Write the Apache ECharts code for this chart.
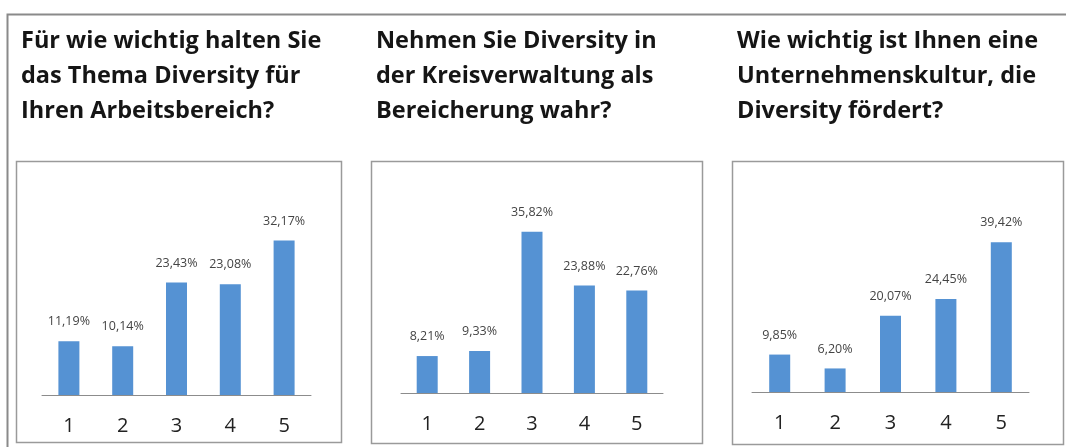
<!DOCTYPE html>
<html><head><meta charset="utf-8">
<script src="https://cdn.jsdelivr.net/npm/echarts@6/dist/echarts.min.js"></script>
<style>html,body{margin:0;padding:0;background:#fff}#c{width:1066px;height:447px}</style>
</head><body><div id="c"></div>
<script>
const categories = ['1','2','3','4','5'];
const titles = [
  'Für wie wichtig halten Sie\ndas Thema Diversity für\nIhren Arbeitsbereich?',
  'Nehmen Sie Diversity in\nder Kreisverwaltung als\nBereicherung wahr?',
  'Wie wichtig ist Ihnen eine\nUnternehmenskultur, die\nDiversity fördert?'
];
const valuesArbeitsbereich = [11.19, 10.14, 23.43, 23.08, 32.17];
const valuesBereicherung = [8.21, 9.33, 35.82, 23.88, 22.76];
const valuesKultur = [9.85, 6.20, 20.07, 24.45, 39.42];
const seriesValues = [valuesArbeitsbereich, valuesBereicherung, valuesKultur];

const grids = [
  {left: 42, width: 269, top: 203, bottom: 52},
  {left: 401, width: 262, top: 213, bottom: 54},
  {left: 752, width: 277, top: 221, bottom: 55}
];
const yMax = [40, 40, 45];
const titlePos = [16, 371, 732];
const boxes = [
  {x: 16.5, y: 161.5, w: 325, h: 281},
  {x: 371.5, y: 161.5, w: 331, h: 282},
  {x: 732.5, y: 161.5, w: 331, h: 283}
];
const fmt = v => v.toFixed(2).replace('.', ',') + '%';
const chart = echarts.init(document.getElementById('c'), null, {renderer: 'canvas'});
const option = {
  animation: false,
  backgroundColor: '#fff',
  title: titles.map((t, i) => ({
    text: t, left: titlePos[i], top: 19,
    textStyle: {fontFamily: 'Open Sans', fontWeight: 'bold', fontSize: 23.5, lineHeight: 35, color: '#151515'}
  })),
  graphic: [
    {type: 'polyline', shape: {points: [[7.5, 447], [7.5, 14.5], [1066, 14.5]]}, style: {stroke: '#8a8a8a', lineWidth: 2, fill: null}, z: -1}
  ].concat(boxes.map(b => ({type: 'rect', shape: {x: b.x, y: b.y, width: b.w, height: b.h}, style: {stroke: '#9a9a9a', lineWidth: 1.5, fill: null}, z: -1}))),
  grid: grids,
  xAxis: grids.map((g, i) => ({
    type: 'category', gridIndex: i, data: categories,
    axisLine: {lineStyle: {color: '#8c8c8c', width: 1}},
    axisTick: {show: false},
    axisLabel: {color: '#222', fontSize: 20, fontFamily: 'Open Sans', margin: 21}
  })),
  yAxis: grids.map((g, i) => ({
    type: 'value', gridIndex: i, min: 0, max: yMax[i], show: false, splitLine: {show: false}
  })),
  series: seriesValues.map((vals, i) => ({
    type: 'bar', xAxisIndex: i, yAxisIndex: i, data: vals, barWidth: 21,
    itemStyle: {color: '#5592d3'},
    label: {show: true, position: 'top', distance: 13, formatter: p => fmt(p.value), fontSize: 12.5, fontFamily: 'Open Sans', color: '#444'}
  }))
};
chart.setOption(option);
</script></body></html>
